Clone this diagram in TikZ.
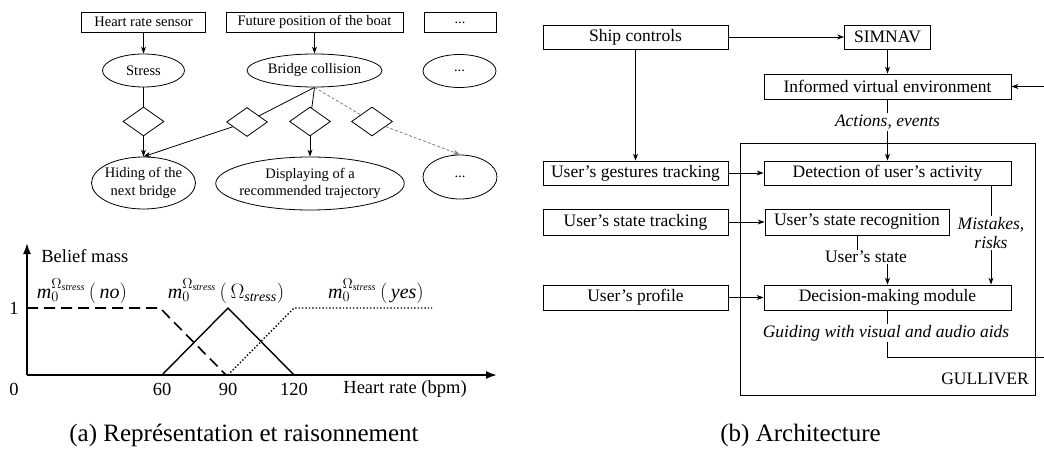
\documentclass[tikz,border=0pt]{standalone}
\usepackage{fontspec}
\setmainfont{Liberation Serif}
\usetikzlibrary{shapes.geometric,arrows.meta}

\begin{document}
\begin{tikzpicture}[x=1pt,y=-1pt,line width=0.8pt,
    >={Stealth[length=7pt,width=5pt]},
    lbl/.style={font=\fontsize{14.5}{17.5}\selectfont},
    box/.style={lbl,draw,minimum height=20,inner sep=0pt},
    oval/.style={lbl,draw,ellipse,align=center,inner sep=-4pt,minimum height=33},
    choice/.style={draw,diamond,inner sep=0pt,minimum width=41,minimum height=29},
    axlbl/.style={font=\fontsize{18.5}{20}\selectfont,inner sep=1pt},
    mlbl/.style={font=\fontsize{20}{22}\selectfont,inner sep=1pt},
    blk/.style={draw,font=\fontsize{17.5}{19}\selectfont,minimum height=24,inner sep=0pt},
    note/.style={font=\fontsize{17.5}{19}\selectfont\itshape,align=center,inner sep=1pt},
    capt/.style={font=\fontsize{25}{27}\selectfont,anchor=west,inner sep=0pt}]
  \clip (0,0) rectangle (1044,452);
  \draw
    (143.5,22) node[box,minimum width=124] (hrs){Heart rate sensor}
    (314.5,22) node[box,minimum width=177] (fpb){Future position of the boat}
    (460,22.5) node[box,minimum width=72] (b3){...}
    (143.5,70.5) node[oval,minimum width=82] (stress){Stress}
    (314.5,70.5) node[oval,minimum width=135] (coll){Bridge collision}
    (459.5,71) node[oval,minimum width=73] (e3){...}
    (143.5,121.5) node[choice] (d1){}
    (247,122) node[choice] (d2){}
    (310,121.5) node[choice] (d3){}
    (372,121.5) node[choice] (d4){}
    (143.5,183) node[oval,minimum width=104,minimum height=52] (hide){Hiding of the\\next bridge}
    (310,183.5) node[oval,minimum width=186,minimum height=53] (disp){Displaying of a\\recommended trajectory}
    (460,177) node[oval,minimum width=74,minimum height=44] (e4){...};
  \begin{scope}[->]
    \draw (hrs) to (stress);
    \draw (fpb) to (coll);
    \draw (d1) to (hide.north);
    \draw (d2) to (hide.north);
    \draw (d3) to (disp);
    \draw[densely dashed,gray] (d4) to (e4.north);
  \end{scope}
  \begin{scope}[-]
    \draw (stress) to (d1);
    \draw (coll.south) to (d2);
    \draw (coll.south) to (d3);
    \draw[densely dashed,gray] (coll.south) to (d4);
  \end{scope}

  \coordinate (o) at (27,375);
  \draw[line width=1.8pt,-{Latex[length=11pt,width=8pt]}] (o) -- (27,243);
  \draw[line width=1.8pt,-{Latex[length=11pt,width=8pt]}] (o) -- (497,375);
  \draw
    (40,256) node[axlbl,anchor=west] (bm){Belief mass}
    (14,308) node[axlbl] (one){1}
    (14,389) node[axlbl] (zero){0}
    (162,389) node[axlbl] (t60){60}
    (228,389) node[axlbl] (t90){90}
    (294,389) node[axlbl] (t120){120}
    (342,389) node[axlbl,anchor=west] (hr){Heart rate (bpm)}
    (82,291) node[mlbl] (mno){$\mathit{m}_0^{\Omega_{\mathit{stress}}}\,\Bigl(\,\mathit{no}\Bigr)$}
    (226,291) node[mlbl] (mom){$\mathit{m}_0^{\Omega_{\mathit{stress}}}\,\Bigl(\,\Omega_{\mathit{stress}}\Bigr)$}
    (376,291) node[mlbl] (myes){$\mathit{m}_0^{\Omega_{\mathit{stress}}}\,\Bigl(\,\mathit{yes}\Bigr)$};
  \draw[line width=1.6pt,dash pattern=on 11pt off 6pt] (27,308) -- (160,308) -- (226,375);
  \draw[line width=1.4pt] (162,375) -- (228,308) -- (294,375);
  \draw[line width=1.4pt,dotted] (228,375) -- (294,308) -- (432,308);

  \draw (740,143) rectangle (1035,395);
  \draw
    (635.5,37) node[blk,minimum width=185] (ship){Ship controls}
    (887.5,37) node[blk,minimum width=86] (sim){SIMNAV}
    (887.5,86.5) node[blk,minimum width=247,minimum height=25] (ive){Informed virtual environment}
    (635.5,173) node[blk,minimum width=185] (gest){User's gestures tracking}
    (887.5,173) node[blk,minimum width=247] (act){Detection of user's activity}
    (635.5,222) node[blk,minimum width=185,minimum height=26] (strk){User's state tracking}
    (857,222) node[blk,minimum width=184,minimum height=26] (srec){User's state recognition}
    (635.5,297.5) node[blk,minimum width=185,minimum height=25] (prof){User's profile}
    (887.5,297.5) node[blk,minimum width=247,minimum height=25] (dms){Decision-making module}
    (887.5,122) node[note] (ae){Actions, events}
    (991,233) node[note] (mr){Mistakes,\\risks}
    (866,257) node[note,font=\fontsize{17.5}{19}\selectfont] (us){User's state}
    (886,333) node[note] (gv){Guiding with visual and audio aids}
    (985,379) node[font=\fontsize{17.5}{19}\selectfont] (gul){GULLIVER};
  \coordinate (ret) at (1052,357);
  \begin{scope}[->]
    \draw (ship) to (sim);
    \draw (sim) to (ive);
    \draw (ship) to (gest);
    \draw (gest) to (act);
    \draw (strk) to (srec);
    \draw (prof) to (dms);
    \draw (ae.south -| act.north) to (act.north);
    \draw (mr.south) to (mr.south |- dms.north);
    \draw (us.south -| dms.north) to (dms.north);
    \draw (gv.south -| dms.south) |- (ret) |- (ive.east);
  \end{scope}
  \begin{scope}[-]
    \draw (ive.south) to (ive.south |- ae.north);
    \draw (mr.north |- act.south) to (mr.north);
    \draw (srec.south) to (srec.south |- us.north);
    \draw (dms.south) to (dms.south |- gv.north);
  \end{scope}

  \draw
    (69,435) node[capt] (capa){(a) Représentation et raisonnement}
    (720,435) node[capt] (capb){(b) Architecture};
\end{tikzpicture}
\end{document}
